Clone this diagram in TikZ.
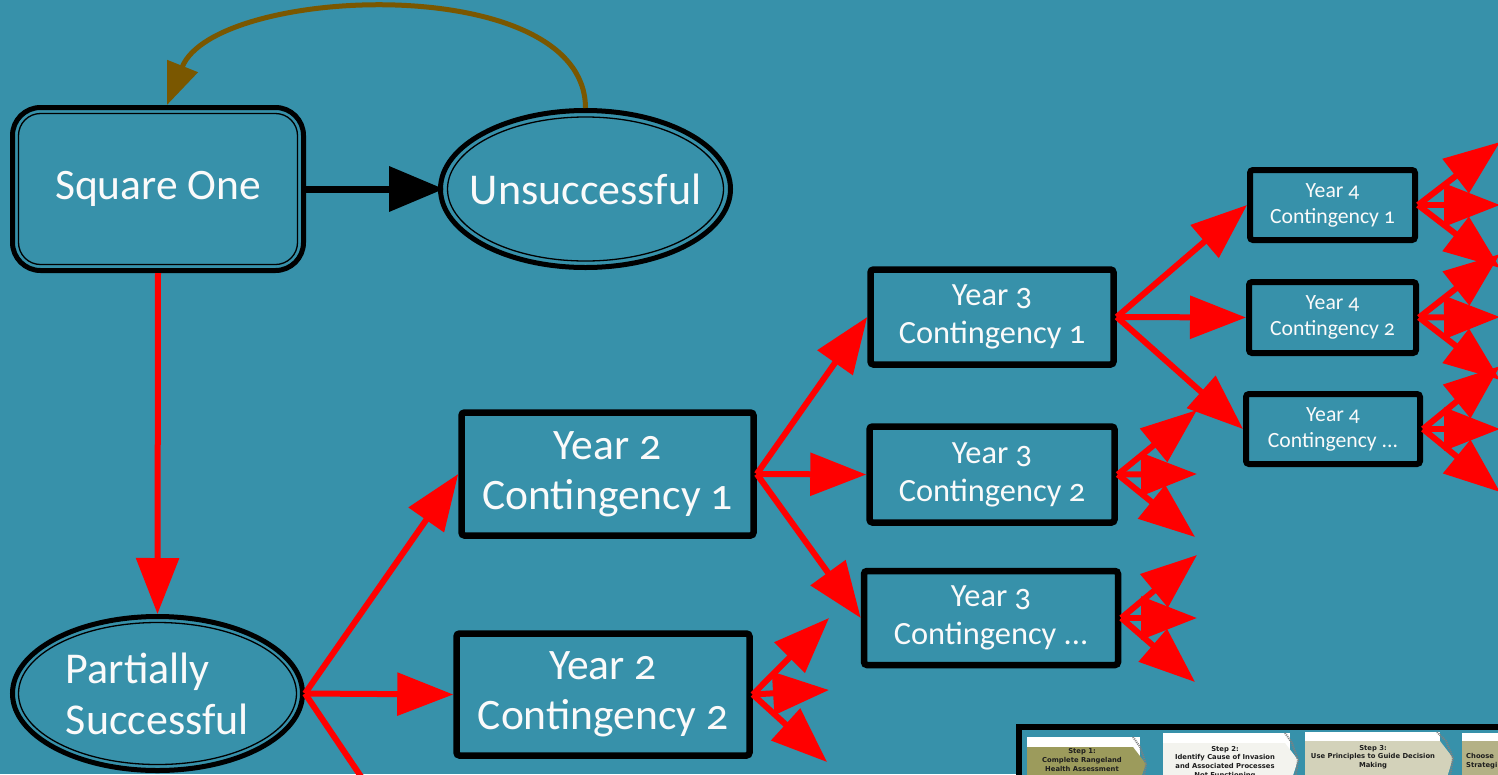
\documentclass[tikz,border=0pt]{standalone}
\usepackage{fontspec}
\setmainfont{Carlito}[Numbers=OldStyle]
\newfontfamily\stepfont{DejaVu Sans}
\usetikzlibrary{arrows.meta,shapes.geometric}
\definecolor{bg}{RGB}{55,145,170}
\definecolor{redline}{RGB}{255,0,0}
\definecolor{brownline}{RGB}{122,87,0}
\definecolor{txt}{RGB}{250,250,250}
\definecolor{olive}{RGB}{156,155,92}
\definecolor{paleb}{RGB}{243,243,238}
\definecolor{beige}{RGB}{211,210,186}
\definecolor{khaki}{RGB}{180,177,134}
\definecolor{steptxt}{RGB}{30,30,30}
\begin{document}
\begin{tikzpicture}[x=1pt,y=-1pt,
  box/.style={draw=black, line width=6.5pt, rounded corners=3pt, text=txt, align=center, inner sep=0pt},
  big/.style={font=\fontsize{43.5}{50}\selectfont},
  mid/.style={font=\fontsize{32.4}{38}\selectfont},
  small/.style={font=\fontsize{21.7}{26}\selectfont},
  dblellipse/.style={ellipse, draw=black, line width=5pt, text=txt, inner sep=-24pt, font=\fontsize{44}{51}\selectfont},
  innerline/.style={draw=black, line width=1.3pt},
  redarrow/.style={draw=redline, line width=6pt, -{Triangle[length=56pt,width=42pt]}},
  blackarrow/.style={draw=black, line width=7pt, -{Triangle[length=55pt,width=44pt]}},
  brownarrow/.style={draw=brownline, line width=5pt, -{Triangle[length=42pt,width=32pt]}},
  steptext/.style={font=\stepfont\bfseries\fontsize{6.8}{8.8}\selectfont, text=steptxt, align=center, inner sep=0pt},
]
\useasboundingbox (0,0) rectangle (1498,774);
\clip (0,0) rectangle (1498,774);
\fill[bg] (0,0) rectangle (1498,774);

% main nodes
\node[draw=black, line width=5pt, rounded corners=28pt, minimum width=291pt, minimum height=163pt,
      text=txt, inner sep=0pt, font=\fontsize{43.5}{50}\selectfont] (sq) at (158,189) {Square One};
\draw[innerline, rounded corners=22pt] (sq.center) ++(-139.5,-75.5) rectangle ++(279,151);

\node[dblellipse, minimum width=290pt, minimum height=157pt] (un) at (585.5,189) {Unsuccessful};
\draw[innerline] (un.center) ellipse [x radius=138, y radius=72];

\node[dblellipse, minimum width=290pt, minimum height=154pt, align=left] (ps) at (157.5,693.5) {Partially\\Successful};
\draw[innerline] (ps.center) ellipse [x radius=139, y radius=71];

\node[box,big,minimum width=292pt,minimum height=123pt] (y2a) at (607.5,474) {Year 2\\Contingency 1};
\node[box,big,minimum width=293pt,minimum height=122pt] (y2b) at (603,694.5) {Year 2\\Contingency 2};

\node[box,mid,minimum width=243pt,minimum height=95pt] (y3a) at (992,317) {Year 3\\Contingency 1};
\node[box,mid,minimum width=245pt,minimum height=96pt] (y3b) at (992,474.5) {Year 3\\Contingency 2};
\node[box,mid,minimum width=254pt,minimum height=94pt] (y3c) at (991,618) {Year 3\\Contingency ...};

\node[box,small,line width=6pt,minimum width=165pt,minimum height=70pt] (y4a) at (1332.5,205) {Year 4\\Contingency 1};
\node[box,small,line width=6pt,minimum width=167pt,minimum height=71pt] (y4b) at (1332.5,317.5) {Year 4\\Contingency 2};
\node[box,small,line width=6pt,minimum width=174pt,minimum height=70pt] (y4c) at (1333,429) {Year 4\\Contingency ...};

% free ends
\coordinate (y2off) at (420,864);
\coordinate (b1) at (829,618); \coordinate (b2) at (829,690); \coordinate (b3) at (827,762);
\coordinate (c1) at (1197,410); \coordinate (c2) at (1197,474); \coordinate (c3) at (1195,537);
\coordinate (d1) at (1197,555); \coordinate (d2) at (1197,618); \coordinate (d3) at (1195,682);
\coordinate (e1) at (1500,142); \coordinate (e2) at (1500,205); \coordinate (e3) at (1500,268);
\coordinate (f1) at (1500,254); \coordinate (f2) at (1500,317); \coordinate (f3) at (1500,380);
\coordinate (g1) at (1500,366); \coordinate (g2) at (1500,429); \coordinate (g3) at (1500,492);

% connectors
\draw[blackarrow, shorten >=-6pt] (sq.east) -- (un.west);
\draw[brownarrow] (un.north) .. controls (585,-30) and (215,-15) .. ([xshift=9pt]sq.north);
\draw[redarrow] (sq.south) -- (ps.north);
\draw[redarrow] (ps.east) -- (y2a.west);
\draw[redarrow] (ps.east) -- (y2b.west);
\draw[redarrow] (ps.east) -- (y2off);
\draw[redarrow] (y2a.east) -- (y3a.west);
\draw[redarrow] (y2a.east) -- (y3b.west);
\draw[redarrow] (y2a.east) -- (y3c.west);
\foreach \t in {b1,b2,b3} \draw[redarrow] (y2b.east) -- (\t);
\draw[redarrow] (y3a.east) -- (y4a.west);
\draw[redarrow] (y3a.east) -- (y4b.west);
\draw[redarrow] (y3a.east) -- (y4c.west);
\foreach \t in {c1,c2,c3} \draw[redarrow] (y3b.east) -- (\t);
\foreach \t in {d1,d2,d3} \draw[redarrow] (y3c.east) -- (\t);
\foreach \t in {e1,e2,e3} \draw[redarrow] (y4a.east) -- (\t);
\foreach \t in {f1,f2,f3} \draw[redarrow] (y4b.east) -- (\t);
\foreach \t in {g1,g2,g3} \draw[redarrow] (y4c.east) -- (\t);

% inset of the step chart
\draw[black, line width=6pt, fill=bg] (1019,727) rectangle (1560,830);
% step 1
\fill[white] (1027,737) rectangle (1140,800);
\fill[olive] (1027,747) -- (1133,747) -- (1146,764) -- (1133,800) -- (1027,800) -- cycle;
\draw[gray, line width=2pt, dash pattern=on 1pt off 1pt] (1133,737) -- (1140,747) -- (1146,764) -- (1140,800);
\node[steptext] (s1) at (1082,760) {Step 1:\\Complete Rangeland\\Health Assessment};
% step 2
\fill[white] (1163,733) rectangle (1290,800);
\fill[paleb] (1163,743) -- (1285,743) -- (1298,760) -- (1285,800) -- (1163,800) -- cycle;
\draw[gray, line width=2pt, dash pattern=on 1pt off 1pt] (1285,733) -- (1292,743) -- (1298,760) -- (1292,800);
\node[steptext] (s2) at (1225,762.5) {Step 2:\\Identify Cause of Invasion\\and Associated Processes\\Not Functioning};
% step 3
\fill[white] (1305,732) rectangle (1440,800);
\fill[beige] (1305,741) -- (1440,741) -- (1453,758) -- (1440,800) -- (1305,800) -- cycle;
\draw[gray, line width=2pt, dash pattern=on 1pt off 1pt] (1437,732) -- (1446,741) -- (1453,758) -- (1446,800);
\node[steptext] (s3) at (1373,757) {Step 3:\\Use Principles to Guide Decision\\Making};
% step 4
\fill[white] (1462,733) rectangle (1500,800);
\fill[khaki] (1462,741) rectangle (1500,800);
\node[steptext, anchor=west, align=left] (s4) at (1466,761.5) {Choose\\Strategi};
\end{tikzpicture}
\end{document}
